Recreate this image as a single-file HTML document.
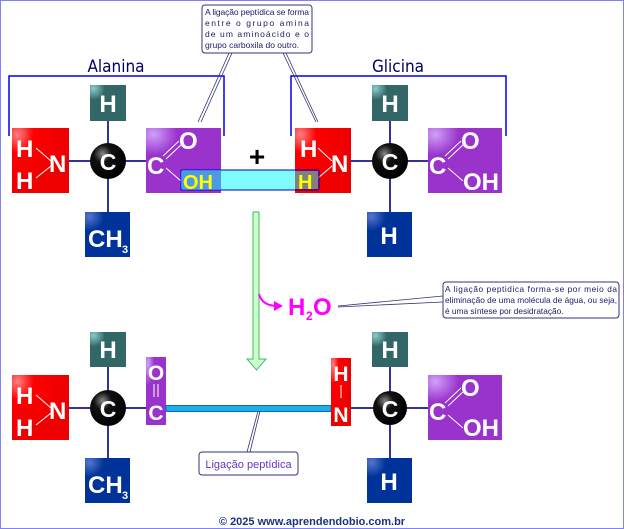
<!DOCTYPE html>
<html><head><meta charset="utf-8"><style>
html,body{margin:0;padding:0;background:#fff}
svg{display:block}
text{font-family:"Liberation Sans",sans-serif}
.w{fill:#fff;font-weight:bold}
</style></head><body>
<svg width="624" height="529" viewBox="0 0 624 529" xmlns="http://www.w3.org/2000/svg">
<defs>
<radialGradient id="cg" cx="0.35" cy="0.3" r="0.7"><stop offset="0" stop-color="#888"/><stop offset="0.35" stop-color="#111"/><stop offset="1" stop-color="#000"/></radialGradient>
<radialGradient id="rg" cx="0.1" cy="0.1" r="0.8"><stop offset="0" stop-color="#ff8080"/><stop offset="0.35" stop-color="#f00"/><stop offset="1" stop-color="#e00"/></radialGradient>
<radialGradient id="pg" cx="0.1" cy="0.1" r="0.8"><stop offset="0" stop-color="#d0a0f8"/><stop offset="0.4" stop-color="#9933cc"/><stop offset="1" stop-color="#9933cc"/></radialGradient>
<radialGradient id="tg" cx="0.1" cy="0.1" r="0.8"><stop offset="0" stop-color="#8cc"/><stop offset="0.4" stop-color="#336666"/><stop offset="1" stop-color="#336666"/></radialGradient>
<radialGradient id="bg" cx="0.1" cy="0.1" r="0.8"><stop offset="0" stop-color="#5577cc"/><stop offset="0.4" stop-color="#003399"/><stop offset="1" stop-color="#003399"/></radialGradient>
</defs>
<rect x="0.5" y="0.5" width="623" height="528" fill="#fff" stroke="#8080ff"/>

<g stroke="#0000ee" stroke-width="1.5" fill="none">
<path d="M9 136 V76 H224 V136"/>
<path d="M291 136 V76 H506 V136"/>
</g>
<text x="116" y="72" font-size="17" fill="#000066" text-anchor="middle" style="font-family:'DejaVu Sans Condensed','Liberation Sans Narrow',sans-serif">Alanina</text>
<text x="398" y="72" font-size="17" fill="#000066" text-anchor="middle" style="font-family:'DejaVu Sans Condensed','Liberation Sans Narrow',sans-serif">Glicina</text>

<g stroke="#333377" stroke-width="0.8" fill="none">
<path d="M229 53 L198 122 M232 53 L201 122"/>
<path d="M283 53 L316 122 M286 53 L318 122"/>
</g>
<rect x="202" y="5" width="110" height="48" rx="3" fill="#fff" stroke="#333377"/>
<g font-size="8.5" fill="#1a1a66">
<text x="205" y="15" textLength="104" lengthAdjust="spacing">A ligação peptídica se forma</text>
<text x="205" y="26" textLength="104" lengthAdjust="spacing">entre o grupo amina</text>
<text x="205" y="37" textLength="104" lengthAdjust="spacing">de um aminoácido e o</text>
<text x="205" y="48">grupo carboxila do outro.</text>
</g>

<g stroke="#333399" stroke-width="2">
<path d="M69 161 H146 M108 121 V212"/>
<path d="M351 161 H428 M390 121 V212"/>
</g>
<rect x="12" y="128" width="57" height="65" fill="url(#rg)"/>
<text class="w" x="16" y="157" font-size="24">H</text>
<text class="w" x="16" y="189" font-size="24">H</text>
<text class="w" x="49" y="172" font-size="24">N</text>
<path d="M36 148 L51 161 M36 178 L51 166" stroke="#fff" stroke-width="1"/>
<rect x="90" y="85" width="36" height="36" fill="url(#tg)"/>
<text class="w" x="108" y="112" font-size="24" text-anchor="middle">H</text>
<circle cx="108" cy="161" r="18" fill="url(#cg)"/>
<text class="w" x="108" y="170" font-size="23" text-anchor="middle">C</text>
<rect x="85" y="212" width="45" height="45" fill="url(#bg)"/>
<text class="w" x="88" y="247" font-size="24">CH</text>
<text class="w" x="122" y="253" font-size="11">3</text>
<rect x="146" y="128" width="75" height="65" fill="url(#pg)"/>
<text class="w" x="147" y="174" font-size="24">C</text>
<text class="w" x="179" y="149" font-size="24">O</text>
<path d="M163 156 L179 141 M166 159 L182 144 M166 168 L181 181" stroke="#fff" stroke-width="1"/>
<rect x="181" y="170" width="138" height="20" fill="#7ffcfc" stroke="#0000cc" stroke-width="1" rx="1"/>
<rect x="182" y="171" width="39" height="18" fill="#4c99e6"/>
<text x="183" y="189" font-size="20" font-weight="bold" fill="#ffff00">OH</text>
<text x="257" y="166" font-size="28" font-weight="bold" text-anchor="middle" fill="#000">+</text>

<rect x="295" y="128" width="56" height="65" fill="url(#rg)"/>
<text class="w" x="300" y="157" font-size="24">H</text>
<text class="w" x="331" y="172" font-size="24">N</text>
<path d="M318 148 L332 161 M318 178 L332 166" stroke="#fff" stroke-width="1"/>
<rect x="295" y="171" width="23" height="18" fill="#808080"/>
<rect x="181" y="170" width="138" height="20" fill="none" stroke="#0000cc" stroke-width="1" rx="1"/>
<text x="298" y="189" font-size="20" font-weight="bold" fill="#ffff00">H</text>
<rect x="372" y="85" width="36" height="36" fill="url(#tg)"/>
<text class="w" x="390" y="112" font-size="24" text-anchor="middle">H</text>
<circle cx="390" cy="161" r="18" fill="url(#cg)"/>
<text class="w" x="390" y="170" font-size="23" text-anchor="middle">C</text>
<rect x="367" y="212" width="45" height="45" fill="url(#bg)"/>
<text class="w" x="389" y="244" font-size="24" text-anchor="middle">H</text>
<rect x="428" y="128" width="74" height="65" fill="url(#pg)"/>
<text class="w" x="429" y="174" font-size="24">C</text>
<text class="w" x="461" y="149" font-size="24">O</text>
<text class="w" x="463" y="190" font-size="24">OH</text>
<path d="M445 156 L461 141 M448 159 L464 144 M448 168 L463 181" stroke="#fff" stroke-width="1"/>

<path d="M253 212 H259 V359 H266 L256.5 370 L247 359 H253 Z" fill="#ccffcc" stroke="#44bb66" stroke-width="1"/>
<path d="M259 294 Q262 306 278 306" stroke="#ff00ff" stroke-width="2" fill="none"/>
<path d="M283 306 L274 301 L274 311 Z" fill="#ff00ff"/>
<text x="288" y="315" font-size="24" font-weight="bold" fill="#ff00ff">H</text>
<text x="306" y="320" font-size="12" font-weight="bold" fill="#ff00ff">2</text>
<text x="313" y="315" font-size="24" font-weight="bold" fill="#ff00ff">O</text>
<path d="M338 306 L443 296 M338 307 L443 302" stroke="#333377" stroke-width="0.8"/>
<rect x="443" y="282" width="176" height="36" rx="3" fill="#fff" stroke="#333377"/>
<g font-size="8.3" fill="#1a1a66">
<text x="445" y="292" textLength="172" lengthAdjust="spacing">A ligação peptidica forma-se por meio da</text>
<text x="445" y="303" textLength="172" lengthAdjust="spacing">eliminação de uma molécula de água, ou seja,</text>
<text x="445" y="314">é uma síntese por desidratação.</text>
</g>

<g stroke="#333399" stroke-width="2">
<path d="M69 408 H146 M108 367 V458"/>
<path d="M351 408 H428 M390 367 V458"/>
</g>
<rect x="12" y="375" width="57" height="65" fill="url(#rg)"/>
<text class="w" x="16" y="404" font-size="24">H</text>
<text class="w" x="16" y="436" font-size="24">H</text>
<text class="w" x="49" y="419" font-size="24">N</text>
<path d="M36 395 L51 408 M36 425 L51 413" stroke="#fff" stroke-width="1"/>
<rect x="90" y="332" width="36" height="35" fill="url(#tg)"/>
<text class="w" x="108" y="358" font-size="24" text-anchor="middle">H</text>
<circle cx="108" cy="408" r="18" fill="url(#cg)"/>
<text class="w" x="108" y="417" font-size="23" text-anchor="middle">C</text>
<rect x="85" y="458" width="45" height="45" fill="url(#bg)"/>
<text class="w" x="88" y="493" font-size="24">CH</text>
<text class="w" x="122" y="499" font-size="11">3</text>
<rect x="146" y="357" width="20" height="68" fill="url(#pg)"/>
<text class="w" x="156" y="380" font-size="21" text-anchor="middle">O</text>
<path d="M154 384 V397 M158 384 V397" stroke="#fff" stroke-width="1"/>
<text class="w" x="156" y="420" font-size="21" text-anchor="middle">C</text>
<rect x="166" y="405.5" width="165" height="6" fill="#1ab2e6" stroke="#1166cc" stroke-width="1"/>
<rect x="331" y="358" width="20" height="68" fill="url(#rg)"/>
<text class="w" x="341" y="381" font-size="21" text-anchor="middle">H</text>
<path d="M341 385 V398" stroke="#fff" stroke-width="1"/>
<text class="w" x="341" y="422" font-size="21" text-anchor="middle">N</text>
<rect x="372" y="332" width="36" height="35" fill="url(#tg)"/>
<text class="w" x="390" y="358" font-size="24" text-anchor="middle">H</text>
<circle cx="390" cy="408" r="17" fill="url(#cg)"/>
<text class="w" x="390" y="417" font-size="23" text-anchor="middle">C</text>
<rect x="367" y="458" width="45" height="45" fill="url(#bg)"/>
<text class="w" x="389" y="490" font-size="24" text-anchor="middle">H</text>
<rect x="428" y="375" width="74" height="65" fill="url(#pg)"/>
<text class="w" x="429" y="420" font-size="24">C</text>
<text class="w" x="461" y="396" font-size="24">O</text>
<text class="w" x="463" y="436" font-size="24">OH</text>
<path d="M445 403 L461 388 M448 406 L464 391 M448 415 L463 428" stroke="#fff" stroke-width="1"/>

<path d="M258 411 L247 452 M260 411 L250 452" stroke="#333377" stroke-width="0.8"/>
<rect x="199" y="452" width="99" height="23" rx="3" fill="#fff" stroke="#333377"/>
<text x="248.5" y="468" font-size="11" fill="#6633cc" text-anchor="middle">Ligação peptídica</text>

<text x="312" y="525" font-size="11" font-weight="bold" fill="#1a3380" text-anchor="middle">© 2025 www.aprendendobio.com.br</text>
</svg>
</body></html>
